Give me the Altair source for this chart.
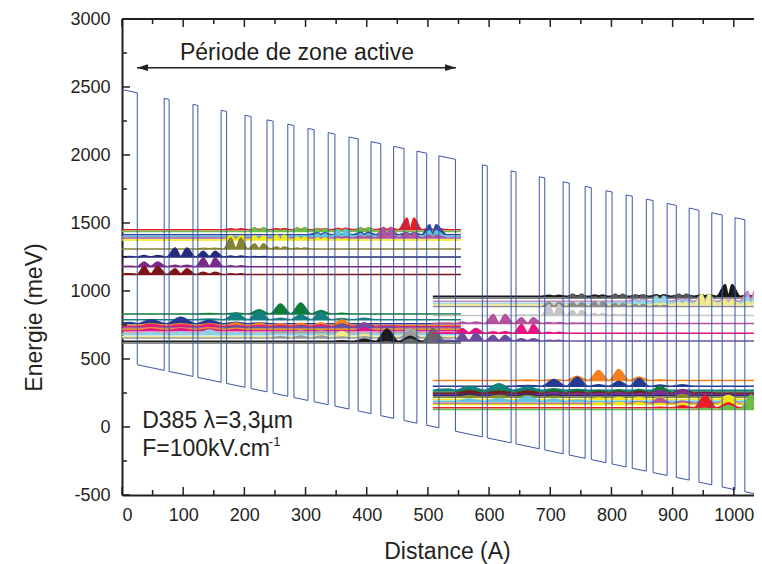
import altair as alt
import pandas as pd

# ---------------- axis values ----------------
x_major = list(range(0, 1001, 100))
x_minor = list(range(50, 1001, 100))
y_major = list(range(-500, 3001, 500))
y_minor = list(range(-250, 2751, 500))

# ---------------- potential profile (one period, Å) ----------------
barrier_start = [-2, 69, 116, 162, 201, 237, 271, 304, 337, 371, 407, 444, 482]
barrier_end = [25, 77, 124, 171, 211, 247, 281, 314, 348, 386, 423, 461, 498]
period_length = 520      # Å
period_drop = 489        # meV between equivalent states of two periods
barrier_top_at_0 = 2481  # meV
band_offset = 2000       # meV
field_slope = 0.94       # meV / Å

# ---------------- states of one period ----------------
state_energy = [1451, 1438, 1414, 1399, 1390, 1375, 1309, 1250, 1179, 1122,
                831, 789, 760, 747, 738, 728, 718, 708, 691, 679, 664, 654, 630, 617]
state_color_p1 = ["#e31e26", "#6dbd45", "#2c4da0", "#5fc4d9", "#b4539f", "#f4e916",
                  "#858330", "#252b7b", "#7a2a88", "#7c1517",
                  "#107c3b", "#13817f", "#273a92", "#f58220", "#e7197d", "#6c50a2",
                  "#f7941d", "#e2178b", "#a5a5a5", "#8ed1e2", "#f3ee8a", "#9b9b9b",
                  "#1c1c1c", "#686868"]
state_color_p2 = ["#1a1a1a", "#595959", "#c78bc3", "#93d5e6", "#f2ec86", "#8c8c8c",
                  "#c5c5c5", "#b5519f", "#e6177e", "#6b4d9e",
                  "#f5821f", "#263b8f", "#148080", "#0f7b3a", "#7b1a1d", "#7c2f8f",
                  "#232a6b", "#8a8a2f", "#f6e81a", "#63c5da", "#b3569f", "#f1e40f",
                  "#ed1c24", "#6bbd46"]
state_wave = [
    [[166,0],[178,6],[186,1],[194,6],[206,0],[217,8],[224,2],[231,8],[242,0],[253,8],[259,2],[265,8],[276,0],[287,8],[292,2],[298,8],[309,0],[320,8],[325,2],[331,8],[342,0],[354,10],[359,2],[365,10],[378,0],[391,10],[396,2],[402,10],[415,0],[428,12],[433,2],[439,12],[452,0],[466,86],[471,6],[477,86],[490,0],[503,10],[508,2],[513,10],[531,0]],
    [[206,0],[217,29],[224,3],[231,29],[242,0],[253,10],[259,2],[265,10],[276,0],[287,29],[292,3],[298,29],[309,0],[320,22],[325,3],[331,22],[342,0],[354,15],[359,2],[365,15],[378,0],[391,29],[396,3],[402,29],[415,0],[428,10],[433,2],[439,10],[452,0]],
    [[304,0],[320,15],[325,3],[331,15],[342,0],[354,12],[359,2],[365,12],[378,0],[391,18],[396,3],[402,18],[415,0],[428,37],[433,4],[439,37],[452,0],[466,15],[471,3],[477,15],[490,0],[503,74],[508,6],[513,74],[531,0]],
    [[276,0],[287,8],[292,2],[298,8],[309,0],[320,22],[325,3],[331,22],[342,0],[354,51],[359,4],[365,51],[378,0],[391,22],[396,3],[402,22],[415,0],[428,15],[433,2],[439,15],[452,0],[466,12],[471,2],[477,12],[490,0],[503,44],[508,4],[513,44],[531,0]],
    [[342,0],[354,8],[359,2],[365,8],[378,0],[391,15],[396,2],[402,15],[415,0],[428,78],[433,6],[439,78],[452,0],[466,37],[471,4],[477,37],[490,0],[503,22],[508,3],[513,22],[531,0]],
    [[166,0],[178,32],[186,3],[194,32],[206,0],[217,29],[224,3],[231,29],[242,0],[253,37],[259,3],[265,37],[276,0],[287,22],[292,3],[298,22],[309,0],[320,15],[325,2],[331,15],[342,0],[354,8],[359,1],[365,8],[378,0]],
    [[120,0],[133,5],[143,1],[152,5],[166,0],[178,81],[186,6],[194,81],[206,0],[217,39],[224,3],[231,39],[242,0],[253,15],[259,2],[265,15],[276,0],[287,7],[292,1],[298,7],[309,0]],
    [[-12,0],[14,3],[25,0],[36,11],[47,2],[58,11],[73,0],[87,66],[96,5],[106,66],[120,0],[133,42],[143,4],[152,42],[166,0],[178,7],[186,1],[194,7],[206,0],[217,4],[224,1],[231,4],[242,0]],
    [[-12,0],[14,3],[25,0],[36,34],[47,3],[58,34],[73,0],[87,11],[96,2],[106,11],[120,0],[133,64],[143,5],[152,64],[166,0],[178,7],[186,1],[194,7],[206,0]],
    [[-12,0],[14,5],[25,0],[36,59],[47,5],[58,59],[73,0],[87,42],[96,4],[106,42],[120,0],[133,15],[143,2],[152,15],[166,0],[178,4],[186,1],[194,4],[206,0]],
    [[120,0],[143,3],[166,0],[186,8],[206,0],[224,32],[242,0],[259,74],[276,0],[292,81],[309,0],[325,25],[342,0],[359,5],[378,0]],
    [[120,0],[143,5],[166,0],[186,49],[206,0],[224,66],[242,0],[259,10],[276,0],[292,37],[309,0],[325,56],[342,0],[359,8],[378,0],[396,11],[415,0]],
    [[-12,0],[14,8],[25,0],[47,29],[73,0],[96,47],[120,0],[143,25],[166,0],[186,10],[206,0],[224,5],[242,0]],
    [[25,0],[47,12],[73,0],[96,12],[120,0],[143,12],[166,0],[186,18],[206,0],[224,15],[242,0],[259,12],[276,0],[292,15],[309,0],[325,18],[342,0],[359,42],[378,0],[396,8],[415,0]],
    [[25,0],[47,15],[73,0],[96,12],[120,0],[143,15],[166,0],[186,8],[206,0],[224,8],[242,0],[259,8],[276,0],[292,8],[309,0],[325,12],[342,0],[359,15],[378,0],[396,27],[415,0],[433,5],[452,0]],
    [[166,0],[186,15],[206,0],[224,10],[242,0],[259,10],[276,0],[292,15],[309,0],[325,10],[342,0],[359,29],[378,0],[396,37],[415,0],[433,8],[452,0]],
    [[25,0],[47,12],[73,0],[96,10],[120,0],[143,12],[166,0],[186,8],[206,0]],
    [[25,0],[47,12],[73,0],[96,15],[120,0],[143,12],[166,0],[186,8],[206,0],[378,0],[396,20],[415,0]],
    [[242,0],[259,12],[276,0],[292,15],[309,0],[325,15],[342,0],[359,12],[378,0],[415,0],[433,10],[452,0],[471,29],[490,0]],
    [[25,0],[47,15],[73,0],[96,22],[120,0],[143,35],[166,0],[186,15],[206,0],[224,8],[242,0]],
    [[309,0],[325,10],[342,0],[359,39],[378,0],[396,15],[415,0],[433,10],[452,0],[471,34],[490,0]],
    [[242,0],[259,12],[276,0],[292,15],[309,0],[325,15],[342,0],[359,8],[378,0],[396,10],[415,0],[433,10],[452,0],[471,50],[490,0],[508,15],[531,0]],
    [[342,0],[359,5],[378,0],[396,15],[415,0],[433,91],[452,0],[471,37],[490,0],[508,49],[531,0]],
    [[415,0],[433,10],[452,0],[471,30],[490,0],[508,107],[531,0]],
]
line_start, line_end = -12, 554

# ---------------- annotations ----------------
arrow_x = [24.5, 546]
arrow_e = 2642
label_texts = ["Période de zone active", "D385 \u03bb=3,3\u00b5m", "F=100kV.cm", "-1"]
label_x = [286, 33, 33, 240]
label_e = [2752, 46, -160, -112]
label_size = [23, 23, 23, 13]
label_align = ["center", "left", "left", "left"]

# ---------------- tables ----------------
prof = []
for p in range(3):
    for a, b in zip(barrier_start, barrier_end):
        a, b = a + p * period_length, b + p * period_length
        if a > 1100:
            continue
        for xx, is_top in ((a, False), (a, True), (b, True), (b, False)):
            e = barrier_top_at_0 - field_slope * xx - (0 if is_top else band_offset)
            prof.append({"i": len(prof), "x": xx, "e": e})
prof_df = pd.DataFrame(prof)

rows = []
k = 0
for p, colors in enumerate([state_color_p1, state_color_p2]):
    for e, col, wave in zip(state_energy, colors, state_wave):
        base = e - p * period_drop
        pts = {x: h for x, h in wave}
        pts.setdefault(line_start, 0)
        pts.setdefault(line_end, 0)
        for x in sorted(pts):
            rows.append({"key": f"s{k:03d}", "x": x + p * period_length,
                         "top": base + pts[x], "base": base, "col": col})
        k += 1
states_df = pd.DataFrame(rows)

INK = "#231f20"
FONT = "Liberation Sans"
W = 632
H = 476
xscale = alt.Scale(domain=[0, 1033], nice=False, zero=False)
yscale = alt.Scale(domain=[-500, 3000], nice=False, zero=False)
xaxis = alt.Axis(values=x_major, labelExpr="'' + datum.value", ticks=False, grid=False,
                 domainWidth=2, domainColor=INK, labelFontSize=18, labelColor=INK,
                 labelPadding=11, labelOverlap=False, labelFont=FONT,
                 title="Distance (A)", titleFontSize=23, titleFontWeight="normal",
                 titleColor=INK, titleFont=FONT, titleX=325, titleY=56, titleBaseline="middle")
yaxis = alt.Axis(values=y_major, labelExpr="'' + datum.value", ticks=False, grid=False,
                 domainWidth=2, domainColor=INK, labelFontSize=18, labelColor=INK,
                 labelPadding=12, labelOverlap=False, labelFont=FONT,
                 title="Energie (meV)", titleFontSize=23, titleFontWeight="normal",
                 titleColor=INK, titleFont=FONT, titleX=-88, titleY=298,
                 titleBaseline="middle", titleAngle=270, titleAlign="center")


def X(f):
    return alt.X(f"{f}:Q", scale=xscale, axis=xaxis, title="Distance (A)")


def Y(f):
    return alt.Y(f"{f}:Q", scale=yscale, axis=yaxis, title="Energie (meV)", stack=None)


areas = alt.Chart(states_df).mark_area(clip=True, interpolate="monotone", strokeWidth=1.5,
                                       opacity=1).encode(
    x=X("x"), y=Y("top"), y2="base",
    color=alt.Color("col:N", scale=None), stroke=alt.Stroke("col:N", scale=None),
    detail="key:N")

profile = alt.Chart(prof_df).mark_line(clip=True, color="#3a57a6", strokeWidth=1).encode(
    x=X("x"), y=Y("e"), order="i:Q")

xmaj_df = pd.DataFrame({"x": x_major})
xmin_df = pd.DataFrame({"x": x_minor})
ymaj_df = pd.DataFrame({"y": y_major})
ymin_df = pd.DataFrame({"y": y_minor})
tk = dict(color=INK, strokeWidth=1.5)
ticks = [
    alt.Chart(xmaj_df).mark_rule(**tk).encode(x=X("x"), y=alt.value(H), y2=alt.value(H - 8)),
    alt.Chart(xmin_df).mark_rule(**tk).encode(x=X("x"), y=alt.value(H), y2=alt.value(H - 5)),
    alt.Chart(xmaj_df).mark_rule(**tk).encode(x=X("x"), y=alt.value(0), y2=alt.value(8)),
    alt.Chart(xmin_df).mark_rule(**tk).encode(x=X("x"), y=alt.value(0), y2=alt.value(5)),
    alt.Chart(ymaj_df).mark_rule(**tk).encode(y=Y("y"), x=alt.value(0), x2=alt.value(8)),
    alt.Chart(ymin_df).mark_rule(**tk).encode(y=Y("y"), x=alt.value(0), x2=alt.value(5)),
]
top_frame = alt.Chart(pd.DataFrame({"y": [3000]})).mark_rule(color=INK, strokeWidth=2).encode(
    y=Y("y"))

arrow_df = pd.DataFrame({"x": arrow_x, "e": [arrow_e, arrow_e]})
arrow_line = alt.Chart(arrow_df).mark_line(color=INK, strokeWidth=1.4).encode(x=X("x"), y=Y("e"))
head_l = alt.Chart(arrow_df.iloc[[0]]).mark_point(
    shape="M 0 0 L 2 -0.62 L 2 0.62 Z", size=121, filled=True, color=INK, opacity=1).encode(
    x=X("x"), y=Y("e"))
head_r = alt.Chart(arrow_df.iloc[[1]]).mark_point(
    shape="M 0 0 L -2 -0.62 L -2 0.62 Z", size=121, filled=True, color=INK, opacity=1).encode(
    x=X("x"), y=Y("e"))

texts = []
for t, x, e, s, a in zip(label_texts, label_x, label_e, label_size, label_align):
    texts.append(alt.Chart(pd.DataFrame({"x": [x], "e": [e], "t": [t]})).mark_text(
        font=FONT, fontSize=s, align=a, baseline="middle", color=INK).encode(
        x=X("x"), y=Y("e"), text="t:N"))

chart = alt.layer(areas, profile, *ticks, top_frame, arrow_line, head_l, head_r, *texts).properties(
    width=W, height=H,
    autosize=alt.AutoSizeParams(type="none"),
    padding={"left": 114, "top": 11, "right": 0, "bottom": 69},
    background="white",
).configure_view(stroke=None)

chart.save("out.html", embed_options={"renderer": "svg", "actions": False})
